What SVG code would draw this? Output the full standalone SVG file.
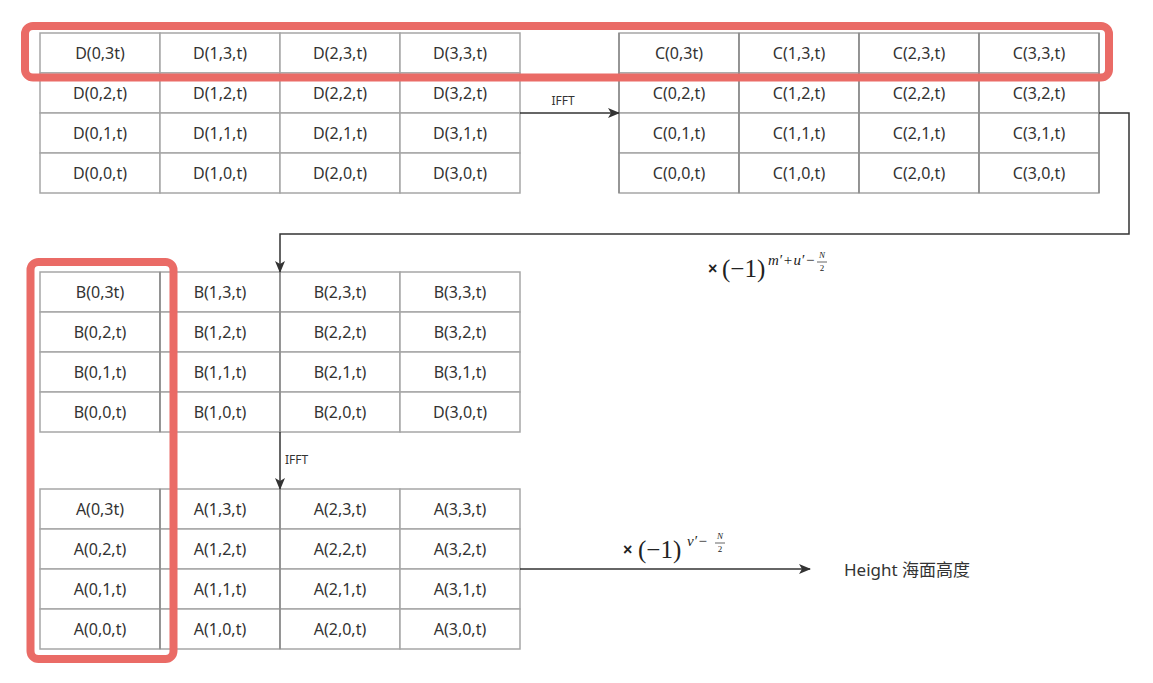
<svg xmlns="http://www.w3.org/2000/svg" width="1153" height="683" viewBox="0 0 1153 683">
<style>
.cell{fill:#fff;stroke:#a6a6a6;stroke-width:1.5}
.vl{stroke:#8a8a8a;stroke-width:1.5}
.t{font-family:"Noto Sans","Liberation Sans",sans-serif;font-size:16px;fill:#333;text-anchor:middle}
.lbl{font-family:"Noto Sans","Liberation Sans",sans-serif;font-size:12px;fill:#333}
.conn{fill:none;stroke:#333;stroke-width:1.5}
.hl{fill:none;stroke:#ea6b66;stroke-width:8}
.m{font-family:"Liberation Serif",serif;fill:#222}
.mi{font-family:"Liberation Serif",serif;font-style:italic;fill:#222}
.x{font-family:"Liberation Sans",sans-serif;font-weight:bold;fill:#222}
</style>
<defs>
<marker id="arr" markerUnits="userSpaceOnUse" markerWidth="12" markerHeight="10" refX="11" refY="5" orient="auto">
<path d="M0,0 L12,5 L0,10 L3,5 Z" fill="#333"/>
</marker>
</defs>
<rect width="1153" height="683" fill="#fff"/>

<g id="gridD">
<rect class="cell" x="40" y="33" width="120" height="40"/><rect class="cell" x="160" y="33" width="120" height="40"/><rect class="cell" x="280" y="33" width="120" height="40"/><rect class="cell" x="400" y="33" width="120" height="40"/>
<rect class="cell" x="40" y="73" width="120" height="40"/><rect class="cell" x="160" y="73" width="120" height="40"/><rect class="cell" x="280" y="73" width="120" height="40"/><rect class="cell" x="400" y="73" width="120" height="40"/>
<rect class="cell" x="40" y="113" width="120" height="40"/><rect class="cell" x="160" y="113" width="120" height="40"/><rect class="cell" x="280" y="113" width="120" height="40"/><rect class="cell" x="400" y="113" width="120" height="40"/>
<rect class="cell" x="40" y="153" width="120" height="40"/><rect class="cell" x="160" y="153" width="120" height="40"/><rect class="cell" x="280" y="153" width="120" height="40"/><rect class="cell" x="400" y="153" width="120" height="40"/>
<text class="t" x="100" y="58.5">D(0,3t)</text><text class="t" x="220" y="58.5">D(1,3,t)</text><text class="t" x="340" y="58.5">D(2,3,t)</text><text class="t" x="460" y="58.5">D(3,3,t)</text>
<text class="t" x="100" y="98.5">D(0,2,t)</text><text class="t" x="220" y="98.5">D(1,2,t)</text><text class="t" x="340" y="98.5">D(2,2,t)</text><text class="t" x="460" y="98.5">D(3,2,t)</text>
<text class="t" x="100" y="138.5">D(0,1,t)</text><text class="t" x="220" y="138.5">D(1,1,t)</text><text class="t" x="340" y="138.5">D(2,1,t)</text><text class="t" x="460" y="138.5">D(3,1,t)</text>
<text class="t" x="100" y="178.5">D(0,0,t)</text><text class="t" x="220" y="178.5">D(1,0,t)</text><text class="t" x="340" y="178.5">D(2,0,t)</text><text class="t" x="460" y="178.5">D(3,0,t)</text>
</g>

<g id="gridC">
<rect class="cell" x="619" y="33" width="120" height="40"/><rect class="cell" x="739" y="33" width="120" height="40"/><rect class="cell" x="859" y="33" width="120" height="40"/><rect class="cell" x="979" y="33" width="120" height="40"/>
<rect class="cell" x="619" y="73" width="120" height="40"/><rect class="cell" x="739" y="73" width="120" height="40"/><rect class="cell" x="859" y="73" width="120" height="40"/><rect class="cell" x="979" y="73" width="120" height="40"/>
<rect class="cell" x="619" y="113" width="120" height="40"/><rect class="cell" x="739" y="113" width="120" height="40"/><rect class="cell" x="859" y="113" width="120" height="40"/><rect class="cell" x="979" y="113" width="120" height="40"/>
<rect class="cell" x="619" y="153" width="120" height="40"/><rect class="cell" x="739" y="153" width="120" height="40"/><rect class="cell" x="859" y="153" width="120" height="40"/><rect class="cell" x="979" y="153" width="120" height="40"/>
<line class="vl" x1="619" y1="33" x2="619" y2="193"/><line class="vl" x1="739" y1="33" x2="739" y2="193"/><line class="vl" x1="859" y1="33" x2="859" y2="193"/><line class="vl" x1="979" y1="33" x2="979" y2="193"/><line class="vl" x1="1099" y1="33" x2="1099" y2="193"/>
<text class="t" x="679" y="58.5">C(0,3t)</text><text class="t" x="799" y="58.5">C(1,3,t)</text><text class="t" x="919" y="58.5">C(2,3,t)</text><text class="t" x="1039" y="58.5">C(3,3,t)</text>
<text class="t" x="679" y="98.5">C(0,2,t)</text><text class="t" x="799" y="98.5">C(1,2,t)</text><text class="t" x="919" y="98.5">C(2,2,t)</text><text class="t" x="1039" y="98.5">C(3,2,t)</text>
<text class="t" x="679" y="138.5">C(0,1,t)</text><text class="t" x="799" y="138.5">C(1,1,t)</text><text class="t" x="919" y="138.5">C(2,1,t)</text><text class="t" x="1039" y="138.5">C(3,1,t)</text>
<text class="t" x="679" y="178.5">C(0,0,t)</text><text class="t" x="799" y="178.5">C(1,0,t)</text><text class="t" x="919" y="178.5">C(2,0,t)</text><text class="t" x="1039" y="178.5">C(3,0,t)</text>
</g>

<g id="gridB">
<rect class="cell" x="40" y="272" width="120" height="40"/><rect class="cell" x="160" y="272" width="120" height="40"/><rect class="cell" x="280" y="272" width="120" height="40"/><rect class="cell" x="400" y="272" width="120" height="40"/>
<rect class="cell" x="40" y="312" width="120" height="40"/><rect class="cell" x="160" y="312" width="120" height="40"/><rect class="cell" x="280" y="312" width="120" height="40"/><rect class="cell" x="400" y="312" width="120" height="40"/>
<rect class="cell" x="40" y="352" width="120" height="40"/><rect class="cell" x="160" y="352" width="120" height="40"/><rect class="cell" x="280" y="352" width="120" height="40"/><rect class="cell" x="400" y="352" width="120" height="40"/>
<rect class="cell" x="40" y="392" width="120" height="40"/><rect class="cell" x="160" y="392" width="120" height="40"/><rect class="cell" x="280" y="392" width="120" height="40"/><rect class="cell" x="400" y="392" width="120" height="40"/>
<line class="vl" x1="160" y1="272" x2="160" y2="432"/><line class="vl" x1="280" y1="272" x2="280" y2="432"/>
<text class="t" x="100" y="297.5">B(0,3t)</text><text class="t" x="220" y="297.5">B(1,3,t)</text><text class="t" x="340" y="297.5">B(2,3,t)</text><text class="t" x="460" y="297.5">B(3,3,t)</text>
<text class="t" x="100" y="337.5">B(0,2,t)</text><text class="t" x="220" y="337.5">B(1,2,t)</text><text class="t" x="340" y="337.5">B(2,2,t)</text><text class="t" x="460" y="337.5">B(3,2,t)</text>
<text class="t" x="100" y="377.5">B(0,1,t)</text><text class="t" x="220" y="377.5">B(1,1,t)</text><text class="t" x="340" y="377.5">B(2,1,t)</text><text class="t" x="460" y="377.5">B(3,1,t)</text>
<text class="t" x="100" y="417.5">B(0,0,t)</text><text class="t" x="220" y="417.5">B(1,0,t)</text><text class="t" x="340" y="417.5">B(2,0,t)</text><text class="t" x="460" y="417.5">D(3,0,t)</text>
</g>

<g id="gridA">
<rect class="cell" x="40" y="489" width="120" height="40"/><rect class="cell" x="160" y="489" width="120" height="40"/><rect class="cell" x="280" y="489" width="120" height="40"/><rect class="cell" x="400" y="489" width="120" height="40"/>
<rect class="cell" x="40" y="529" width="120" height="40"/><rect class="cell" x="160" y="529" width="120" height="40"/><rect class="cell" x="280" y="529" width="120" height="40"/><rect class="cell" x="400" y="529" width="120" height="40"/>
<rect class="cell" x="40" y="569" width="120" height="40"/><rect class="cell" x="160" y="569" width="120" height="40"/><rect class="cell" x="280" y="569" width="120" height="40"/><rect class="cell" x="400" y="569" width="120" height="40"/>
<rect class="cell" x="40" y="609" width="120" height="40"/><rect class="cell" x="160" y="609" width="120" height="40"/><rect class="cell" x="280" y="609" width="120" height="40"/><rect class="cell" x="400" y="609" width="120" height="40"/>
<line class="vl" x1="160" y1="489" x2="160" y2="649"/><line class="vl" x1="280" y1="489" x2="280" y2="649"/>
<text class="t" x="100" y="514.5">A(0,3t)</text><text class="t" x="220" y="514.5">A(1,3,t)</text><text class="t" x="340" y="514.5">A(2,3,t)</text><text class="t" x="460" y="514.5">A(3,3,t)</text>
<text class="t" x="100" y="554.5">A(0,2,t)</text><text class="t" x="220" y="554.5">A(1,2,t)</text><text class="t" x="340" y="554.5">A(2,2,t)</text><text class="t" x="460" y="554.5">A(3,2,t)</text>
<text class="t" x="100" y="594.5">A(0,1,t)</text><text class="t" x="220" y="594.5">A(1,1,t)</text><text class="t" x="340" y="594.5">A(2,1,t)</text><text class="t" x="460" y="594.5">A(3,1,t)</text>
<text class="t" x="100" y="634.5">A(0,0,t)</text><text class="t" x="220" y="634.5">A(1,0,t)</text><text class="t" x="340" y="634.5">A(2,0,t)</text><text class="t" x="460" y="634.5">A(3,0,t)</text>
</g>

<g id="connectors">
<path class="conn" d="M520,113 L619,113" marker-end="url(#arr)"/>
<path class="conn" d="M1099,113 L1129,113 L1129,234 L280,234 L280,272" marker-end="url(#arr)"/>
<path class="conn" d="M280,432 L280,489" marker-end="url(#arr)"/>
<path class="conn" d="M520,569 L810,569" marker-end="url(#arr)"/>
<text class="lbl" x="563" y="105" text-anchor="middle">IFFT</text>
<text class="lbl" x="285" y="464">IFFT</text>
</g>

<g id="factor1">
<text class="x" x="708" y="274" font-size="16">×</text>
<text class="m" x="722" y="277" font-size="25">(−1)</text>
<text x="768" y="265" font-size="15"><tspan class="mi">m′</tspan><tspan class="m" dx="1.5">+</tspan><tspan class="mi" dx="1.5">u′</tspan><tspan class="m" dx="1.5">−</tspan></text>
<text class="mi" x="822" y="258" font-size="9" text-anchor="middle">N</text>
<line x1="817" y1="262" x2="827" y2="262" stroke="#222" stroke-width="0.7"/>
<text class="m" x="822" y="271" font-size="9" text-anchor="middle">2</text>
</g>

<g id="factor2">
<text class="x" x="623" y="555" font-size="16">×</text>
<text class="m" x="638" y="558" font-size="25">(−1)</text>
<text x="687" y="546" font-size="15"><tspan class="mi">v′</tspan><tspan class="m" dx="1.5">−</tspan></text>
<text class="mi" x="720" y="539" font-size="9" text-anchor="middle">N</text>
<line x1="715" y1="543" x2="725" y2="543" stroke="#222" stroke-width="0.7"/>
<text class="m" x="720" y="552" font-size="9" text-anchor="middle">2</text>
</g>

<g id="height">
<text x="844" y="576" font-family="'Noto Sans','Noto Sans CJK SC',sans-serif" font-size="17" fill="#333">Height 海面高度</text>
</g>

<g id="highlights">
<rect class="hl" x="25" y="26" width="1084" height="51.5" rx="8"/>
<rect class="hl" x="30.5" y="262" width="143" height="397" rx="8"/>
</g>
</svg>
